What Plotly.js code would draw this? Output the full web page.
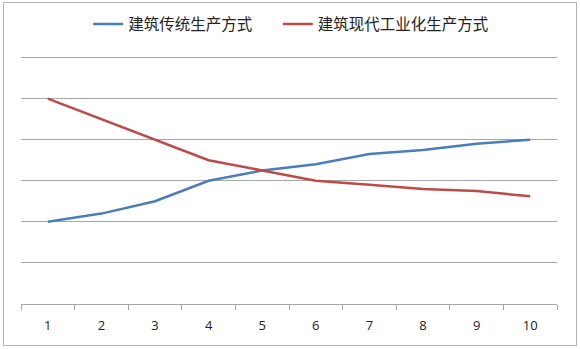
<!DOCTYPE html>
<html><head><meta charset="utf-8">
<script src="https://cdn.plot.ly/plotly-3.0.1.min.js"></script>
<style>
html,body{margin:0;padding:0;background:#fff;}
#wrap{position:relative;width:580px;height:349px;}
#chart{width:580px;height:349px;}
#frame{position:absolute;left:3px;top:2px;width:572px;height:342px;border:1px solid #b4b4b4;pointer-events:none;}
</style></head>
<body>
<div id="wrap"><div id="chart"></div><div id="frame"></div></div>
<script>
const categories = ['1','2','3','4','5','6','7','8','9','10'];
const traditionalName = '建筑传统生产方式';
const traditional = [2.0, 2.2, 2.5, 3.0, 3.25, 3.4, 3.65, 3.75, 3.9, 4.0];
const modernName = '建筑现代工业化生产方式';
const modern = [5.0, 4.5, 4.0, 3.5, 3.25, 3.0, 2.9, 2.8, 2.75, 2.62];

const traces = [
  {x: categories, y: traditional, name: traditionalName, type: 'scatter', mode: 'lines',
   line: {color: '#4A7EBB', width: 2.5}, legend: 'legend'},
  {x: categories, y: modern, name: modernName, type: 'scatter', mode: 'lines',
   line: {color: '#BE4B48', width: 2.5}, legend: 'legend2'}
];
const legendBase = {orientation: 'h', xanchor: 'left', xref: 'container',
  y: 0.93, yanchor: 'middle', yref: 'container',
  font: {size: 15.5, color: '#222'}, itemwidth: 30, bgcolor: 'rgba(0,0,0,0)'};
const layout = {
  width: 580, height: 349,
  margin: {l: 21, r: 23, t: 55, b: 45, autoexpand: false},
  paper_bgcolor: '#fff', plot_bgcolor: '#fff',
  font: {family: '"Noto Sans CJK SC", "Open Sans", sans-serif', color: '#333'},
  showlegend: true,
  legend: Object.assign({}, legendBase, {x: 0.152}),
  legend2: Object.assign({}, legendBase, {x: 0.479}),
  xaxis: {type: 'category', range: [-0.5, 9.5], showgrid: false, zeroline: false,
          showline: true, linecolor: '#a6a6a6', linewidth: 1,
          ticks: 'outside', tickson: 'boundaries', ticklen: 5, tickcolor: '#a6a6a6',
          ticklabelstandoff: 9,
          tickfont: {family: '"Open Sans", sans-serif', size: 13, color: '#222'},
          fixedrange: true},
  yaxis: {range: [0, 6.06], dtick: 1, tick0: 0, showgrid: true, gridcolor: '#a6a6a6',
          gridwidth: 1, zeroline: false, showticklabels: false, showline: false,
          ticks: '', fixedrange: true}
};
Plotly.newPlot('chart', traces, layout, {displayModeBar: false, staticPlot: true});
</script>
</body></html>
